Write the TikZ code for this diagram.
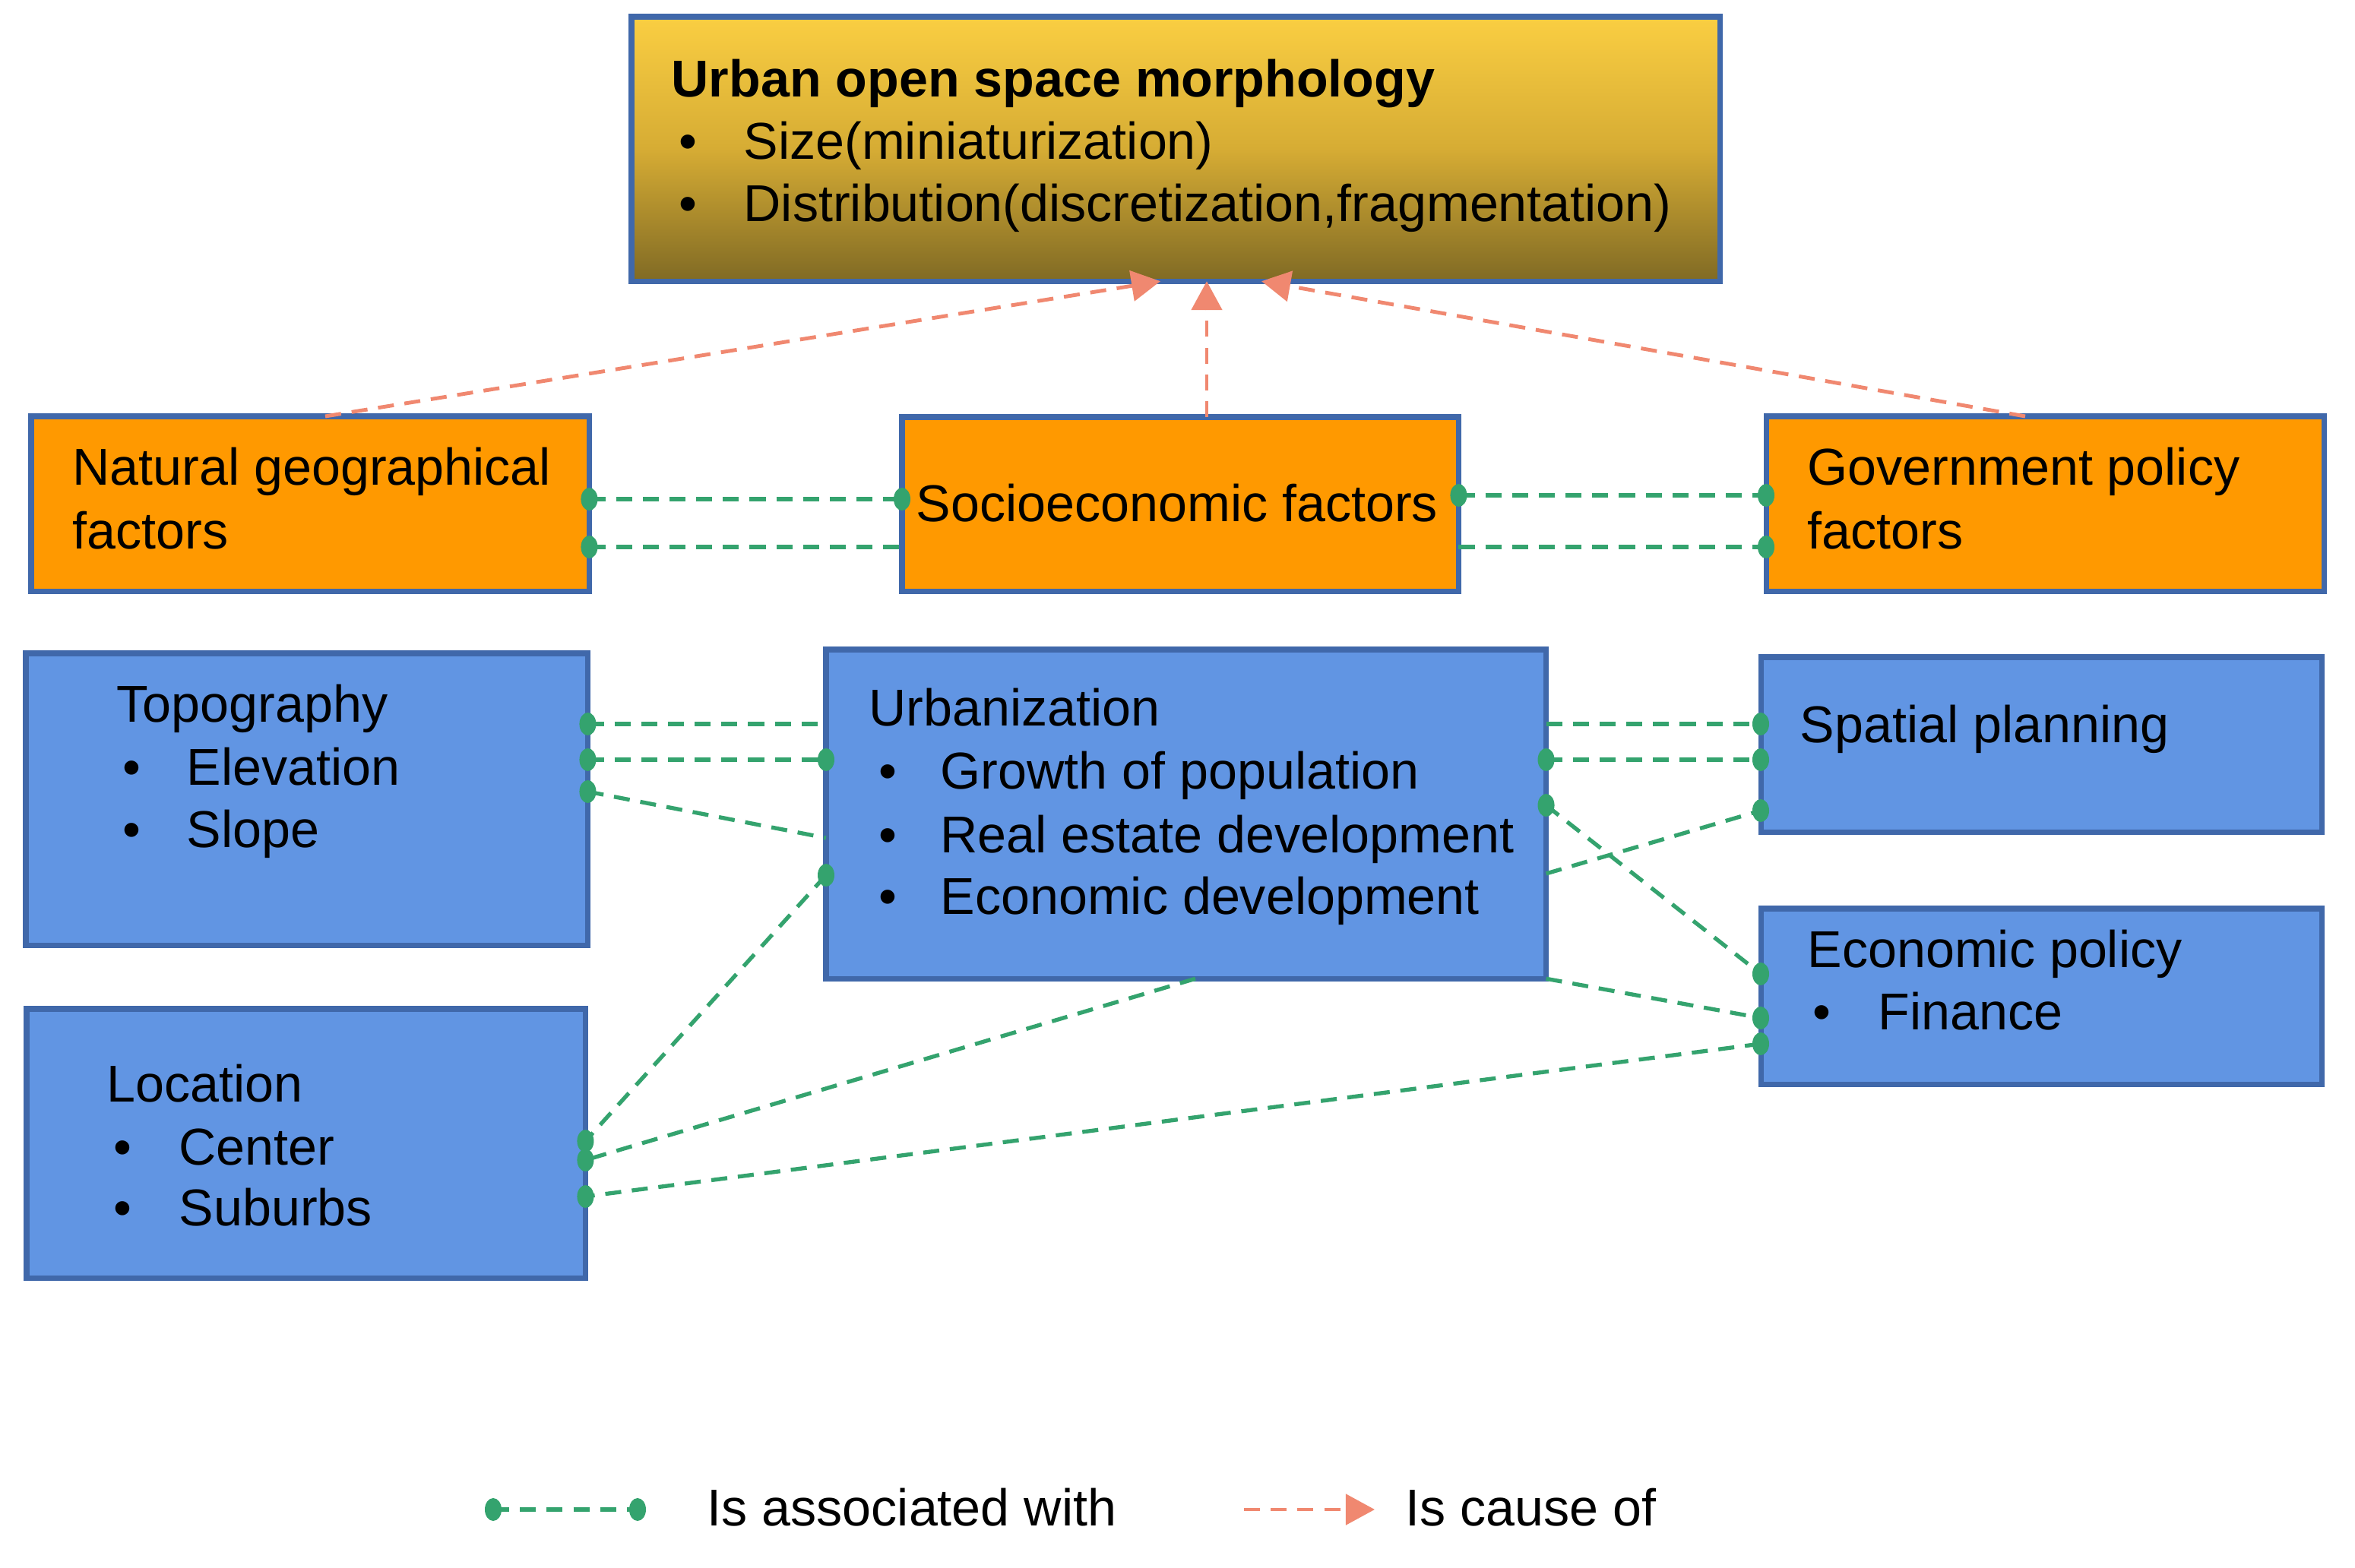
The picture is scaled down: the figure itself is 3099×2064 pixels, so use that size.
\documentclass[tikz,border=0pt]{standalone}
\usepackage{fontspec}
\setmainfont{Liberation Sans}
\usetikzlibrary{arrows.meta}
\definecolor{bordercol}{RGB}{64,104,170}
\definecolor{bluefill}{RGB}{97,149,227}
\definecolor{orangefill}{RGB}{255,153,0}
\definecolor{assoc}{RGB}{52,163,110}
\definecolor{cause}{RGB}{240,136,112}
\definecolor{goldtop}{RGB}{250,206,66}
\definecolor{goldmid}{RGB}{214,172,52}
\definecolor{goldbot}{RGB}{128,106,36}
\begin{document}
\begin{tikzpicture}[x=0.01cm,y=-0.01cm,
  box/.style={draw=bordercol, line width=2pt, inner sep=0pt, outer sep=0pt, anchor=north west},
  bluebox/.style={box, fill=bluefill},
  orbox/.style={box, fill=orangefill},
  txt/.style={anchor=base west, inner sep=0pt, font=\fontsize{19.4}{23.3}\selectfont},
  assocline/.style={draw=assoc, line width=1.5pt, dash pattern=on 6pt off 4pt},
  causeline/.style={draw=cause, line width=1.4pt, dash pattern=on 6pt off 4pt, -{Triangle[length=0.38cm,width=0.40cm]}},
  dotmark/.style={fill=assoc}
]
\path[use as bounding box, fill=white] (0,0) rectangle (3099,2064);

% ---- boxes ----
\node[box, top color=goldtop, bottom color=goldbot, middle color=goldmid,
      minimum width=14.32cm, minimum height=3.48cm] (top) at (831,22) {};
\node[orbox, minimum width=7.34cm, minimum height=2.30cm] (nat) at (41,548) {};
\node[orbox, minimum width=7.32cm, minimum height=2.29cm] (soc) at (1187,549) {};
\node[orbox, minimum width=7.34cm, minimum height=2.30cm] (gov) at (2324,548) {};
\node[bluebox, minimum width=7.39cm, minimum height=3.84cm] (topo) at (34,860) {};
\node[bluebox, minimum width=9.47cm, minimum height=4.33cm] (urb) at (1087,855) {};
\node[bluebox, minimum width=7.38cm, minimum height=2.30cm] (spa) at (2317,865) {};
\node[bluebox, minimum width=7.38cm, minimum height=2.31cm] (eco) at (2317,1196) {};
\node[bluebox, minimum width=7.35cm, minimum height=3.54cm] (loc) at (35,1328) {};

% ---- texts ----
\node[txt, font=\fontsize{19.4}{23.3}\selectfont\bfseries] (t1) at (883,128) {Urban open space morphology};
\node[txt] (t2a) at (893,210) {•};
\node[txt] (t2) at (978,210) {Size(miniaturization)};
\node[txt] (t3a) at (893,292) {•};
\node[txt] (t3) at (978,292) {Distribution(discretization,fragmentation)};

\node[txt] (t4) at (95,639) {Natural geographical};
\node[txt] (t5) at (95,722) {factors};
\node[txt] (t6) at (1205,686) {Socioeconomic factors};
\node[txt] (t7) at (2378,639) {Government policy};
\node[txt] (t8) at (2378,722) {factors};

\node[txt] (t9) at (153,950) {Topography};
\node[txt] (t10a) at (161,1033) {•};
\node[txt] (t10) at (245,1033) {Elevation};
\node[txt] (t11a) at (161,1115) {•};
\node[txt] (t11) at (245,1115) {Slope};

\node[txt] (t12) at (1143,955) {Urbanization};
\node[txt] (t13a) at (1156,1038) {•};
\node[txt] (t13) at (1237,1038) {Growth of population};
\node[txt] (t14a) at (1156,1122) {•};
\node[txt] (t14) at (1237,1122) {Real estate development};
\node[txt] (t15a) at (1156,1203) {•};
\node[txt] (t15) at (1237,1203) {Economic development};

\node[txt] (t16) at (2368,977) {Spatial planning};
\node[txt] (t17) at (2378,1273) {Economic policy};
\node[txt] (t18a) at (2385,1355) {•};
\node[txt] (t18) at (2471,1355) {Finance};

\node[txt] (t19) at (140,1450) {Location};
\node[txt] (t20a) at (149,1533) {•};
\node[txt] (t20) at (235,1533) {Center};
\node[txt] (t21a) at (149,1613) {•};
\node[txt] (t21) at (235,1613) {Suburbs};

% ---- attachment coordinates ----
\coordinate (n1) at (nat.east |- 0,657);
\coordinate (n2) at (nat.east |- 0,720);
\coordinate (s1) at (soc.west |- 0,657);
\coordinate (s2) at (soc.west |- 0,720);
\coordinate (s3) at (soc.east |- 0,652);
\coordinate (s4) at (soc.east |- 0,720);
\coordinate (g1) at (gov.west |- 0,652);
\coordinate (g2) at (gov.west |- 0,720);
\coordinate (tp1) at (topo.east |- 0,953);
\coordinate (tp2) at (topo.east |- 0,1000);
\coordinate (tp3) at (topo.east |- 0,1042);
\coordinate (u1) at (urb.west |- 0,953);
\coordinate (u2) at (urb.west |- 0,1000);
\coordinate (u3) at (urb.west |- 0,1103);
\coordinate (u4) at (urb.west |- 0,1152);
\coordinate (u5) at (urb.south -| 1573,0);
\coordinate (u6) at (urb.east |- 0,953);
\coordinate (u7) at (urb.east |- 0,1000);
\coordinate (u8) at (urb.east |- 0,1060);
\coordinate (u9) at (urb.east |- 0,1150);
\coordinate (u10) at (urb.south east);
\coordinate (l1) at (loc.east |- 0,1502);
\coordinate (l2) at (loc.east |- 0,1527);
\coordinate (l3) at (loc.east |- 0,1575);
\coordinate (sp1) at (spa.west |- 0,953);
\coordinate (sp2) at (spa.west |- 0,1000);
\coordinate (sp3) at (spa.west |- 0,1067);
\coordinate (e1) at (eco.west |- 0,1282);
\coordinate (e2) at (eco.west |- 0,1340);
\coordinate (e3) at (eco.west |- 0,1374);
\coordinate (na) at (nat.north -| 428,0);
\coordinate (sa) at (soc.north -| 1588,0);
\coordinate (ga) at (gov.north -| 2665,0);
\coordinate (ta) at (top.south -| 1527,0);
\coordinate (tb) at (top.south -| 1588,0);
\coordinate (tc) at (top.south -| 1660,0);

% ---- association connectors ----
\draw[assocline] (n1) -- (s1);
\draw[assocline] (n2) -- (s2);
\draw[assocline] (s3) -- (g1);
\draw[assocline] (s4) -- (g2);
\draw[assocline] (tp1) -- (u1);
\draw[assocline] (tp2) -- (u2);
\draw[assocline] (tp3) -- (u3);
\draw[assocline] (u4) -- (l1);
\draw[assocline] (u5) -- (l2);
\draw[assocline] (e3) -- (l3);
\draw[assocline] (u6) -- (sp1);
\draw[assocline] (u7) -- (sp2);
\draw[assocline] (u8) -- (e1);
\draw[assocline] (u9) -- (sp3);
\draw[assocline] (u10) -- (e2);
\foreach \c in {n1,n2,s1,s3,g1,g2,tp1,tp2,tp3,u2,u4,l1,l2,l3,u7,u8,sp1,sp2,sp3,e1,e2,e3}
  \fill[dotmark] (\c) ellipse[x radius=0.11cm, y radius=0.15cm];

% ---- cause connectors ----
\draw[causeline] (na) -- (ta);
\draw[causeline] (sa) -- (tb);
\draw[causeline] (ga) -- (tc);

% ---- legend ----
\coordinate (lg1) at (649,1987);
\coordinate (lg2) at (839,1987);
\draw[assocline] (lg1) -- (lg2);
\fill[dotmark] (lg1) ellipse[x radius=0.11cm, y radius=0.15cm];
\fill[dotmark] (lg2) ellipse[x radius=0.11cm, y radius=0.15cm];
\node[txt] (lt1) at (930,2008) {Is associated with};
\coordinate (lc1) at (1637,1987);
\coordinate (lc2) at (1809,1987);
\draw[causeline] (lc1) -- (lc2);
\node[txt] (lt2) at (1849,2008) {Is cause of};
\end{tikzpicture}
\end{document}
